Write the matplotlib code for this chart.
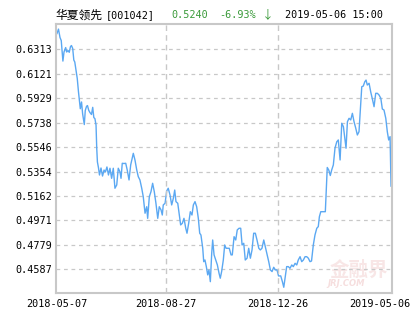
import matplotlib
matplotlib.use('Agg')
from matplotlib import pyplot as plt
import matplotlib.transforms as mtransforms

# trading-day index (0 = 2018-05-07) and unit NAV
day = [0.0, 1.1, 2.2, 3.1, 4.3, 5.1, 6.3, 7.0, 8.0, 8.9,
       9.8, 10.5, 11.4, 12.2, 12.9, 13.6, 14.7, 15.6, 16.9, 17.8,
       18.6, 19.8, 20.5, 21.4, 22.1, 23.0, 23.9, 25.0, 25.9, 26.7,
       27.5, 28.3, 28.8, 29.3, 30.1, 30.8, 31.9, 33.0, 34.1, 35.1,
       36.2, 37.3, 38.4, 39.6, 40.8, 42.0, 43.3, 44.4, 45.6, 46.4,
       47.3, 48.5, 49.8, 50.9, 52.2, 53.4, 55.3, 56.5, 57.8, 58.9,
       60.1, 61.4, 62.5, 63.8, 65.0, 65.7, 66.9, 68.1, 69.3, 70.5,
       71.7, 73.0, 74.1, 75.4, 76.3, 77.0, 78.3, 79.5, 80.6, 81.9,
       83.1, 84.3, 85.3, 86.2, 87.5, 88.6, 89.6, 90.8, 92.0, 93.3,
       94.2, 95.4, 96.6, 97.8, 98.8, 100.0, 101.2, 102.4, 103.4, 104.3,
       105.6, 106.3, 107.2, 108.2, 109.2, 110.1, 111.1, 112.1, 112.8, 113.8,
       115.0, 116.2, 117.4, 118.3, 119.3, 120.5, 121.5, 122.5, 123.7, 124.8,
       126.1, 127.0, 128.3, 129.5, 130.6, 131.9, 133.1, 134.1, 135.3, 136.4,
       137.7, 138.9, 140.1, 141.3, 142.5, 143.7, 144.9, 146.2, 147.3, 148.5,
       149.8, 150.9, 152.2, 153.4, 154.6, 155.8, 157.0, 158.2, 159.4, 160.5,
       162.1, 163.3, 164.3, 165.2, 166.4, 167.6, 168.8, 170.1, 171.2, 172.5,
       173.7, 174.8, 176.1, 177.3, 178.5, 179.7, 180.9, 182.1, 183.3, 184.4,
       185.7, 186.9, 188.2, 189.3, 190.1, 191.1, 192.2, 193.5, 194.4, 195.1,
       195.8, 196.9, 198.0, 199.0, 200.2, 201.4, 202.7, 203.8, 205.1, 206.3,
       207.5, 208.7, 209.4, 210.4, 211.6, 212.8, 214.0, 215.2, 216.4, 217.6,
       218.8, 220.8, 221.9, 223.0, 223.9, 224.8, 226.1, 227.3, 228.5, 229.7,
       230.9, 232.1, 233.3, 234.6, 235.7, 236.9, 238.2, 239.3, 240.3, 241.3,
       242.0]

nav = [0.6437, 0.6472, 0.6406, 0.6382, 0.6221, 0.6292, 0.6327, 0.6292, 0.6304, 0.6290,
       0.6335, 0.6343, 0.6320, 0.6229, 0.6214, 0.6163, 0.6084, 0.5978, 0.5847, 0.5900,
       0.5806, 0.5723, 0.5833, 0.5865, 0.5872, 0.5835, 0.5817, 0.5802, 0.5858, 0.5778,
       0.5769, 0.5719, 0.5539, 0.5429, 0.5382, 0.5327, 0.5382, 0.5319, 0.5366, 0.5351,
       0.5390, 0.5327, 0.5380, 0.5301, 0.5380, 0.5223, 0.5249, 0.5380, 0.5353, 0.5301,
       0.5419, 0.5417, 0.5419, 0.5366, 0.5288, 0.5406, 0.5497, 0.5445, 0.5366, 0.5314,
       0.5288, 0.5223, 0.5157, 0.5027, 0.5078, 0.4987, 0.5157, 0.5196, 0.5262, 0.5196,
       0.5105, 0.4987, 0.5078, 0.5053, 0.5013, 0.5092, 0.5105, 0.5202, 0.5223, 0.5170,
       0.5092, 0.5144, 0.5209, 0.5118, 0.5105, 0.5013, 0.4935, 0.4948, 0.4987, 0.4909,
       0.4870, 0.4948, 0.5039, 0.5013, 0.5092, 0.5118, 0.5078, 0.4987, 0.4870, 0.4856,
       0.4752, 0.4647, 0.4660, 0.4608, 0.4543, 0.4582, 0.4490, 0.4713, 0.4817, 0.4700,
       0.4660, 0.4621, 0.4556, 0.4517, 0.4570, 0.4660, 0.4778, 0.4752, 0.4752, 0.4752,
       0.4700, 0.4700, 0.4843, 0.4817, 0.4896, 0.4909, 0.4909, 0.4778, 0.4791, 0.4660,
       0.4674, 0.4752, 0.4674, 0.4739, 0.4870, 0.4870, 0.4817, 0.4752, 0.4739, 0.4752,
       0.4817, 0.4765, 0.4700, 0.4647, 0.4582, 0.4569, 0.4603, 0.4582, 0.4582, 0.4535,
       0.4535, 0.4490, 0.4446, 0.4517, 0.4608, 0.4608, 0.4595, 0.4621, 0.4608, 0.4634,
       0.4621, 0.4660, 0.4686, 0.4647, 0.4660, 0.4686, 0.4686, 0.4674, 0.4647, 0.4652,
       0.4778, 0.4856, 0.4909, 0.4922, 0.5000, 0.5039, 0.5039, 0.5039, 0.5039, 0.5209,
       0.5386, 0.5366, 0.5323, 0.5366, 0.5406, 0.5537, 0.5588, 0.5602, 0.5445, 0.5733,
       0.5706, 0.5602, 0.5537, 0.5745, 0.5772, 0.5759, 0.5811, 0.5745, 0.5696, 0.5641,
       0.5667, 0.6020, 0.6025, 0.6059, 0.6072, 0.6033, 0.6047, 0.5978, 0.5923, 0.5863,
       0.5968, 0.5968, 0.5955, 0.5929, 0.5845, 0.5837, 0.5772, 0.5667, 0.5602, 0.5628,
       0.5240]

ytick_vals = [0.6313, 0.6121, 0.5929, 0.5738, 0.5546, 0.5354, 0.5162, 0.4971, 0.4779, 0.4587]
ytick_labels = ['0.6313', '0.6121', '0.5929', '0.5738', '0.5546', '0.5354', '0.5162', '0.4971', '0.4779', '0.4587']
xtick_days = [0, 79, 160, 242]
xtick_labels = ['2018-05-07', '2018-08-27', '2018-12-26', '2019-05-06']

fund_name = '华夏领先'
fund_code = '[001042]'
last_nav = '0.5240'
change = '-6.93%'
arrow = '↓'
stamp = '2019-05-06 15:00'

LINE = '#5ba8f2'
GRID = '#c8c8c8'
GREEN = '#3a9a3a'
MONO = 'DejaVu Sans Mono'

fig = plt.figure(figsize=(4.15, 3.3), dpi=100)
ax = fig.add_axes([56/415, 37/330, 336/415, 269/330])

ax.plot(day, nav, color=LINE, lw=1)
ax.set_xlim(-0.7, 242.7)
ax.set_ylim(0.4401, 0.6512)

ax.set_yticks(ytick_vals)
ax.set_yticklabels(ytick_labels)
ax.set_xticks(xtick_days)
ax.set_xticklabels(xtick_labels)
ax.tick_params(length=0, labelsize=7.3)
ax.tick_params(axis='y', pad=3)
ax.tick_params(axis='x', pad=4)
for lab in ax.get_xticklabels() + ax.get_yticklabels():
    lab.set_fontfamily(MONO)

# last date label is pushed left so it stays inside the picture
last = ax.get_xticklabels()[-1]
last.set_transform(last.get_transform() + mtransforms.ScaledTranslation(-11/100, 0, fig.dpi_scale_trans))

ax.yaxis.grid(True, ls=(0, (3, 3)), color=GRID, lw=0.9)
for d in xtick_days[1:-1]:
    ax.axvline(d, ls=(0, (4, 3)), color=GRID, lw=1)

for s in ax.spines.values():
    s.set_color(GRID)
    s.set_linewidth(1.5)

# faint watermark
ax.text(0.90, 0.085, '金融界', transform=ax.transAxes, ha='center', va='center',
        fontsize=14, color='#f8e6e6', family='Noto Sans CJK SC', fontweight='bold', zorder=0)
ax.text(0.865, 0.035, 'JRJ.COM', transform=ax.transAxes, ha='center', va='center',
        fontsize=6, color='#f6dede', fontstyle='italic', fontweight='bold', zorder=0)

# header line
ty = 1 - 15/330
fig.text(55/415, ty, fund_name, fontsize=8.5, family='Noto Sans CJK SC', va='center')
fig.text(106/415, ty, fund_code, fontsize=7.3, family=MONO, va='center')
fig.text(171/415, ty, last_nav, fontsize=7.3, family=MONO, va='center', color=GREEN)
fig.text(219/415, ty, change, fontsize=7.3, family=MONO, va='center', color=GREEN)
fig.text(262/415, ty, arrow, fontsize=8.5, family='Noto Sans CJK SC', va='center', color=GREEN)
fig.text(285/415, ty, stamp, fontsize=7.3, family=MONO, va='center')

fig.savefig('out.png', dpi=100)
